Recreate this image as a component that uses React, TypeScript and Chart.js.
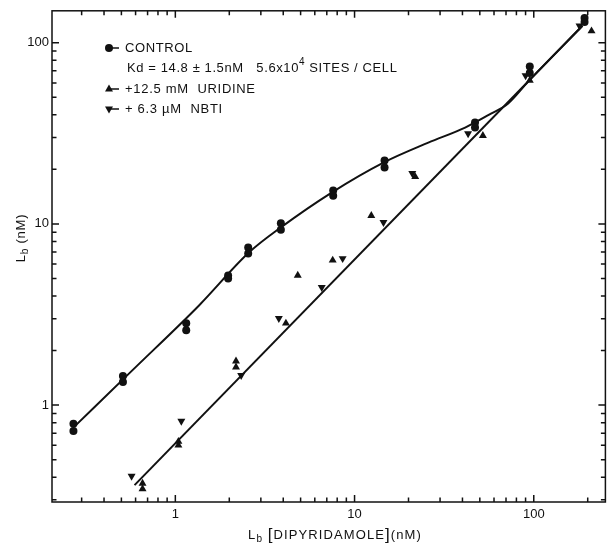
import React, { useEffect, useRef } from 'react';
import { Chart, registerables } from 'chart.js';

Chart.register(...registerables);

// ---- data ----
const controlX = [0.27, 0.27, 0.51, 0.51, 1.15, 1.15, 1.97, 1.97, 2.55, 2.55, 3.88, 3.88, 7.6, 7.6, 14.7, 14.7, 47, 47, 95, 95, 192, 192];
const controlY = [0.79, 0.72, 1.45, 1.34, 2.83, 2.59, 5.2, 5.0, 7.4, 6.87, 10.1, 9.3, 15.3, 14.3, 22.4, 20.5, 36.3, 34, 74, 68, 137, 130];

const uridineX = [0.656, 0.656, 1.04, 1.04, 2.18, 2.18, 4.14, 4.82, 7.55, 12.4, 21.8, 52, 95, 210];
const uridineY = [0.37, 0.345, 0.63, 0.6, 1.75, 1.62, 2.83, 5.2, 6.3, 11.1, 18.2, 30.7, 62, 116];

const nbtiX = [0.57, 1.08, 2.33, 3.78, 6.56, 8.58, 14.5, 21.0, 43, 90, 180];
const nbtiY = [0.406, 0.816, 1.46, 3.01, 4.47, 6.45, 10.2, 19, 31.5, 65.8, 124];

// fitted curves as drawn in the figure
const controlCurveX = [0.275, 0.577, 1.36, 2.58, 3.88, 7.45, 14.5, 25.8, 41.4, 57.7, 71.7, 92.6, 187];
const controlCurveY = [0.766, 1.56, 3.56, 6.97, 9.57, 14.9, 21.8, 28.1, 34.0, 40.6, 46.1, 60.7, 124];
const lowerLineX = [0.592, 187];
const lowerLineY = [0.362, 124];

const xTickValues = [0.3, 0.4, 0.5, 0.6, 0.7, 0.8, 0.9, 1, 2, 3, 4, 5, 6, 7, 8, 9, 10, 20, 30, 40, 50, 60, 70, 80, 90, 100, 200];
const yTickValues = [0.3, 0.4, 0.5, 0.6, 0.7, 0.8, 0.9, 1, 2, 3, 4, 5, 6, 7, 8, 9, 10, 20, 30, 40, 50, 60, 70, 80, 90, 100];
const majorTicks = [1, 10, 100];

const INK = '#111';
const FONT = '"Liberation Sans", Arial, sans-serif';

const zip = (xs: number[], ys: number[]) => xs.map((x, i) => ({ x, y: ys[i] }));

type Part = { t: string; size: number; dy?: number };

function drawParts(ctx: CanvasRenderingContext2D, parts: Part[], x: number, y: number, align: 'left' | 'center', spacing: number) {
  ctx.textBaseline = 'middle';
  ctx.textAlign = 'left';
  (ctx as any).letterSpacing = spacing + 'px';
  const widths = parts.map((p) => {
    ctx.font = `${p.size}px ${FONT}`;
    return ctx.measureText(p.t).width;
  });
  const total = widths.reduce((a, b) => a + b, 0);
  let cx = align === 'center' ? x - total / 2 : x;
  parts.forEach((p, i) => {
    ctx.font = `${p.size}px ${FONT}`;
    ctx.fillText(p.t, cx, y + (p.dy || 0));
    cx += widths[i];
  });
}

const decor = {
  id: 'decor',
  afterDraw(chart: any) {
    const { ctx, chartArea, scales } = chart;
    const { left, right, top, bottom } = chartArea;
    const xs = scales.x;
    const ys = scales.y;
    ctx.save();
    ctx.strokeStyle = INK;
    ctx.fillStyle = INK;
    ctx.lineWidth = 1.5;
    ctx.strokeRect(left, top, right - left, bottom - top);
    ctx.beginPath();
    xTickValues.forEach((v) => {
      const px = xs.getPixelForValue(v);
      const len = majorTicks.includes(v) ? 7 : 4.5;
      ctx.moveTo(px, bottom);
      ctx.lineTo(px, bottom - len);
      ctx.moveTo(px, top);
      ctx.lineTo(px, top + len);
    });
    yTickValues.forEach((v) => {
      const py = ys.getPixelForValue(v);
      const len = majorTicks.includes(v) ? 7 : 4.5;
      ctx.moveTo(left, py);
      ctx.lineTo(left + len, py);
      ctx.moveTo(right, py);
      ctx.lineTo(right - len, py);
    });
    ctx.stroke();

    // legend markers
    ctx.lineWidth = 1.5;
    const mx = 109;
    const rows = [48, 89, 109];
    // circle
    ctx.beginPath();
    ctx.arc(mx, rows[0], 4, 0, Math.PI * 2);
    ctx.fill();
    ctx.beginPath();
    ctx.moveTo(mx, rows[0]);
    ctx.lineTo(mx + 10, rows[0]);
    ctx.stroke();
    // up triangle
    ctx.beginPath();
    ctx.moveTo(mx, rows[1] - 4.5);
    ctx.lineTo(mx + 4, rows[1] + 2.5);
    ctx.lineTo(mx - 4, rows[1] + 2.5);
    ctx.closePath();
    ctx.fill();
    ctx.beginPath();
    ctx.moveTo(mx, rows[1]);
    ctx.lineTo(mx + 10, rows[1]);
    ctx.stroke();
    // down triangle
    ctx.beginPath();
    ctx.moveTo(mx, rows[2] + 4.5);
    ctx.lineTo(mx + 4, rows[2] - 2.5);
    ctx.lineTo(mx - 4, rows[2] - 2.5);
    ctx.closePath();
    ctx.fill();
    ctx.beginPath();
    ctx.moveTo(mx, rows[2]);
    ctx.lineTo(mx + 10, rows[2]);
    ctx.stroke();

    // legend texts
    const tx = 125;
    drawParts(ctx, [{ t: 'CONTROL', size: 13 }], tx, 48, 'left', 0.6);
    drawParts(
      ctx,
      [
        { t: 'Kd = 14.8 \u00b1 1.5nM   5.6x10', size: 13 },
        { t: '4', size: 10, dy: -6 },
        { t: ' SITES / CELL', size: 13 },
      ],
      tx + 2,
      68,
      'left',
      0.6
    );
    drawParts(ctx, [{ t: '+12.5 mM  URIDINE', size: 13 }], tx, 89, 'left', 0.7);
    drawParts(ctx, [{ t: '+ 6.3 \u00b5M  NBTI', size: 13 }], tx, 109, 'left', 0.7);

    // x axis title
    drawParts(
      ctx,
      [
        { t: 'L', size: 13 },
        { t: 'b', size: 10, dy: 4 },
        { t: ' ', size: 13 },
        { t: '[', size: 17 },
        { t: 'DIPYRIDAMOLE', size: 13 },
        { t: ']', size: 17 },
        { t: '(nM)', size: 13 },
      ],
      335,
      535,
      'center',
      1.1
    );

    // y axis title
    ctx.save();
    ctx.translate(21, 238);
    ctx.rotate(-Math.PI / 2);
    drawParts(
      ctx,
      [
        { t: 'L', size: 13 },
        { t: 'b', size: 10, dy: 4 },
        { t: ' (nM)', size: 13 },
      ],
      0,
      0,
      'center',
      0.8
    );
    ctx.restore();
    ctx.restore();
  },
};

export default function App() {
  const ref = useRef<HTMLCanvasElement>(null);
  useEffect(() => {
    if (!ref.current) return;
    const chart = new Chart(ref.current, {
      type: 'scatter',
      data: {
        datasets: [
          {
            label: 'control fit',
            data: zip(controlCurveX, controlCurveY),
            showLine: true,
            borderColor: INK,
            borderWidth: 2,
            pointRadius: 0,
            cubicInterpolationMode: 'monotone',
          },
          {
            label: 'inhibited fit',
            data: zip(lowerLineX, lowerLineY),
            showLine: true,
            borderColor: INK,
            borderWidth: 2,
            pointRadius: 0,
          },
          {
            label: 'CONTROL',
            data: zip(controlX, controlY),
            pointStyle: 'circle',
            pointRadius: 4,
            backgroundColor: INK,
            borderWidth: 0,
          },
          {
            label: '+12.5 mM URIDINE',
            data: zip(uridineX, uridineY),
            pointStyle: 'triangle',
            pointRadius: 4.6,
            backgroundColor: INK,
            borderWidth: 0,
          },
          {
            label: '+ 6.3 µM NBTI',
            data: zip(nbtiX, nbtiY),
            pointStyle: 'triangle',
            rotation: 180,
            pointRadius: 4.6,
            backgroundColor: INK,
            borderWidth: 0,
          },
        ] as any,
      },
      options: {
        responsive: false,
        animation: false,
        events: [],
        layout: { padding: { top: 10, right: 2, left: 0, bottom: 0 } },
        plugins: { legend: { display: false }, tooltip: { enabled: false } },
        scales: {
          x: {
            type: 'logarithmic',
            min: 0.205,
            max: 251,
            position: 'bottom',
            grid: { display: false, drawTicks: false },
            border: { display: false },
            ticks: {
              autoSkip: false,
              maxRotation: 0,
              padding: 5,
              color: INK,
              font: { family: FONT, size: 13 },
              callback: (v: any) => (majorTicks.includes(Number(v)) ? String(v) : ''),
            },
            afterBuildTicks: (s: any) => {
              s.ticks = xTickValues.map((v) => ({ value: v }));
            },
            afterFit: (s: any) => {
              s.height = 43;
            },
          },
          y: {
            type: 'logarithmic',
            min: 0.292,
            max: 150,
            position: 'left',
            grid: { display: false, drawTicks: false },
            border: { display: false },
            ticks: {
              autoSkip: false,
              padding: 3,
              color: INK,
              font: { family: FONT, size: 13 },
              callback: (v: any) => (majorTicks.includes(Number(v)) ? String(v) : ''),
            },
            afterBuildTicks: (s: any) => {
              s.ticks = yTickValues.map((v) => ({ value: v }));
            },
            afterFit: (s: any) => {
              s.width = 52;
            },
          },
        },
      } as any,
      plugins: [decor],
    });
    return () => chart.destroy();
  }, []);
  return (
    <div style={{ position: 'fixed', left: 0, top: 0, width: 610, height: 545, background: '#fff' }}>
      <canvas ref={ref} width={610} height={545} style={{ display: 'block' }} />
    </div>
  );
}
